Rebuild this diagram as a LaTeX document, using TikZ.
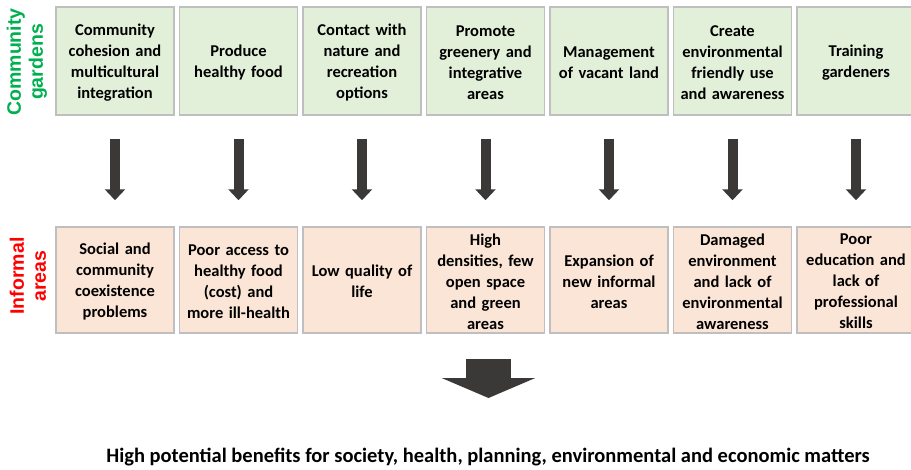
\documentclass[tikz,border=0pt]{standalone}
\usepackage{fontspec}
\setmainfont{Carlito}
\newfontfamily\labelfont{Liberation Sans}
\usetikzlibrary{arrows.meta,calc}
\definecolor{gardenfill}{HTML}{E2F0D9}
\definecolor{areafill}{HTML}{FBE5D6}
\definecolor{boxedge}{HTML}{BFBFBF}
\definecolor{arrowgray}{HTML}{3B3838}
\definecolor{gardengreen}{HTML}{00B050}
\definecolor{areared}{HTML}{FF0000}
\begin{document}
\begin{tikzpicture}[x=1pt,y=-1pt,
  box/.style={draw=boxedge, line width=1.5pt, minimum width=118pt, inner sep=0pt},
  boxtext/.style={text width=114pt, align=center, inner sep=0pt,
    font=\bfseries\fontsize{16.5}{21}\selectfont},
  gardenbox/.style={box, fill=gardenfill, minimum height=108pt},
  areabox/.style={box, fill=areafill, minimum height=106pt},
  smallarrow/.style={draw=arrowgray, line width=10pt,
    -{Triangle[width=20pt,length=11pt,fill=arrowgray]}},
  bigarrow/.style={draw=arrowgray, line width=45pt,
    -{Triangle[width=93pt,length=20pt,fill=arrowgray]}},
  sidelabel/.style={rotate=90, align=center, inner sep=0pt,
    font=\labelfont\bfseries\fontsize{19.5}{22}\selectfont}]
\useasboundingbox (0,0) rectangle (911,469);

% side labels
\node[sidelabel, text=gardengreen] (lg) at (27,62) {Community\\gardens};
\node[sidelabel, text=areared] (la) at (28,276) {Informal\\areas};

% community garden benefits (top row) and informal area problems (bottom row)
\foreach \i/\top/\bot in {
  1/{Community\\cohesion and\\multicultural\\integration}/{Social and\\community\\coexistence\\problems},
  2/{Produce\\healthy food}/{Poor access to\\healthy food\\(cost) and\\more ill-health},
  3/{Contact with\\nature and\\recreation\\options}/{Low quality of\\life},
  4/{Promote\\greenery and\\integrative\\areas}/{High\\densities, few\\open space\\and green\\areas},
  5/{Management\\of vacant land}/{Expansion of\\new informal\\areas},
  6/{Create\\environmental\\friendly use\\and awareness}/{Damaged\\environment\\and lack of\\environmental\\awareness},
  7/{Training\\gardeners}/{Poor\\education and\\lack of\\professional\\skills}}{
  \pgfmathsetmacro{\cx}{115+123.5*(\i-1)}
  \node[gardenbox] (g\i) at (\cx,61) {};
  \node[boxtext] (gt\i) at ($(g\i.center)+(0,2)$) {\top};
  \node[areabox] (a\i) at (\cx,280) {};
  \node[boxtext] (at\i) at ($(a\i.center)+(0,1.5)$) {\bot};
  \draw[smallarrow] ($(g\i.south)+(0,23)$) -- ($(a\i.north)+(0,-26)$);
}

% overall outcome
\coordinate (bigstart) at (488.5,359);
\coordinate (bigend) at (488.5,398);
\draw[bigarrow] (bigstart) -- (bigend);
\node[font=\bfseries\fontsize{20.5}{24}\selectfont, anchor=base] (result) at (488,462.5)
  {High potential benefits for society, health, planning, environmental and economic matters};
\end{tikzpicture}
\end{document}
